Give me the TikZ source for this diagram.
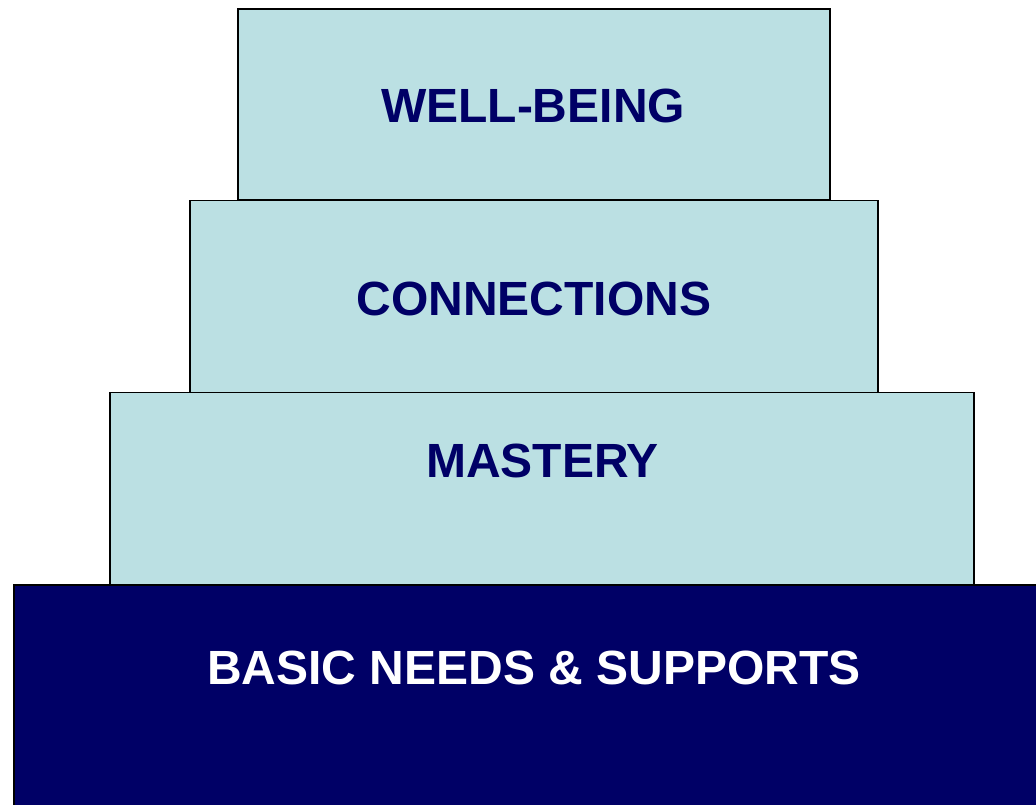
\documentclass[tikz,border=0pt]{standalone}
\usepackage{fontspec}
\setmainfont{Liberation Sans}
\definecolor{lightteal}{RGB}{187,224,227}
\definecolor{navy}{RGB}{0,0,102}
\begin{document}
\begin{tikzpicture}[x=1pt,y=1pt,
  tier/.style={draw=black,line width=1.4pt,fill=lightteal,inner sep=0pt},
  basetier/.style={draw=black,line width=1.4pt,fill=navy,inner sep=0pt},
  label/.style={font=\fontsize{48}{50}\selectfont\bfseries,text height=34.4pt,text depth=0pt,inner sep=0pt,anchor=center}]
\useasboundingbox (0,0) rectangle (1036,805);
\clip (0,0) rectangle (1036,805);
% boxes (y = 805 - image y)
\node[tier,minimum width=592pt,minimum height=191pt] (wb) at (534,700.5) {};
\node[tier,minimum width=688pt,minimum height=192pt] (cn) at (534,508.5) {};
\node[tier,minimum width=864pt,minimum height=192pt] (ms) at (542,316.5) {};
\node[basetier,minimum width=1040pt,minimum height=240pt] (bs) at (534,100) {};
% labels
\node[label,text=navy] (wbt) at (533,699.5) {WELL-BEING};
\node[label,text=navy] (cnt) at (534,507) {CONNECTIONS};
\node[label,text=navy] (mst) at (542.5,344.5) {MASTERY};
\node[label,text=white] (bst) at (534,138) {BASIC NEEDS \& SUPPORTS};
\end{tikzpicture}
\end{document}
